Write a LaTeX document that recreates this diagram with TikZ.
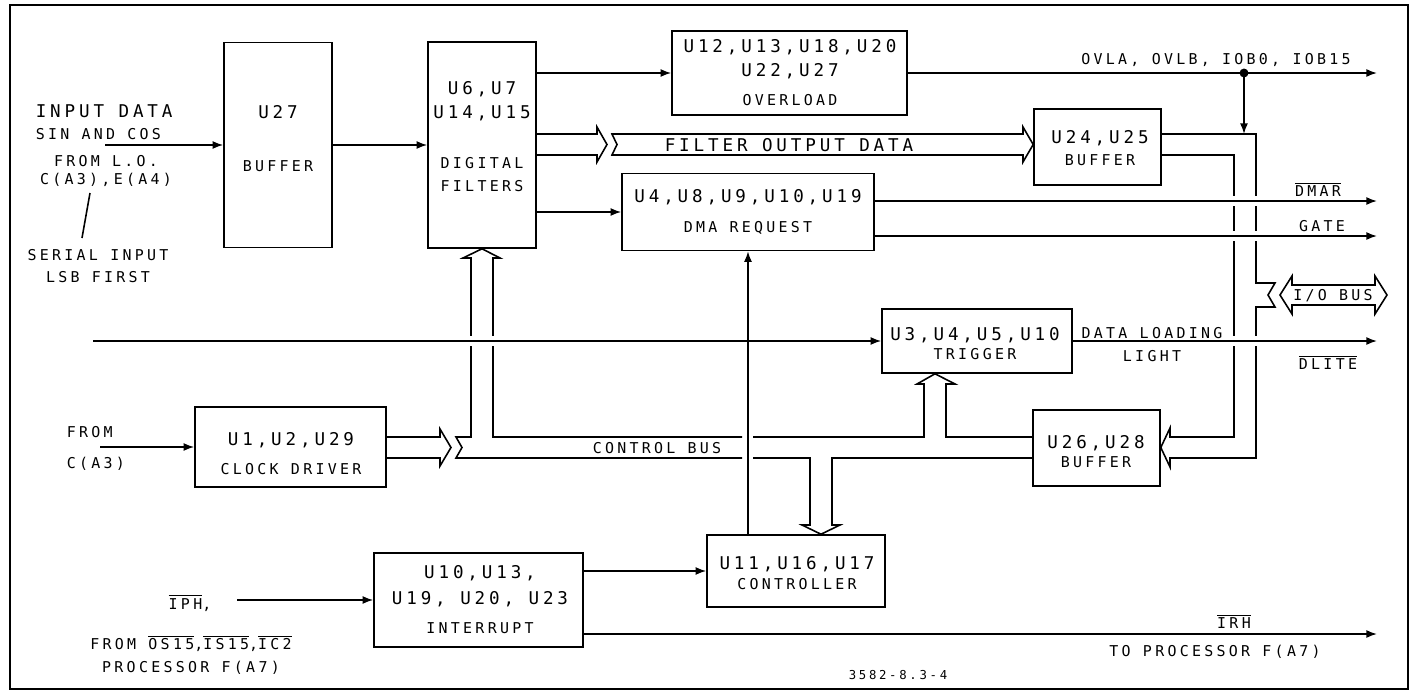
\documentclass[tikz,border=0pt]{standalone}
\usepackage{fontspec}
\setmainfont{DejaVu Sans Mono}[LetterSpace=22]
\usepackage{tikz}
\usetikzlibrary{arrows.meta}
\newcommand\lbig{\fontsize{10}{10}\selectfont}
\newcommand\lsmall{\fontsize{8.5}{10}\selectfont}
\newcommand\ltiny{\fontsize{7}{8}\selectfont}
\newcommand\olin[1]{$\overline{\mbox{#1}}$}

\begin{document}
\begin{tikzpicture}[x=0.02cm,y=-0.02cm,line width=0.9pt,
    >={Latex[length=6pt,width=4.5pt]},
    blk/.style={draw,fill=white,inner sep=0pt},
    txt/.style={align=center,inner sep=0pt,font=\lsmall},
    hop/.style={preaction={draw=white,line width=6pt,-,shorten <=3pt,shorten >=3pt}}]
    \useasboundingbox (0,0) rectangle (1418,693);
    \draw[line width=1.6pt] (10,5) rectangle (1408,689);

    % blocks
    \node[blk,minimum width=2.16cm,minimum height=4.1cm] (u27) at (278,145) {};
    \node[blk,minimum width=2.16cm,minimum height=4.12cm] (df) at (482,145) {};
    \node[blk,minimum width=4.7cm,minimum height=1.68cm] (ovl) at (789.5,73) {};
    \node[blk,minimum width=5.04cm,minimum height=1.54cm] (dma) at (748,212) {};
    \node[blk,minimum width=2.54cm,minimum height=1.52cm] (u24) at (1097.5,147) {};
    \node[blk,minimum width=3.8cm,minimum height=1.28cm] (trig) at (977,341) {};
    \node[blk,minimum width=2.54cm,minimum height=1.52cm] (u26) at (1096.5,448) {};
    \node[blk,minimum width=3.82cm,minimum height=1.6cm] (clk) at (290.5,447) {};
    \node[blk,minimum width=3.56cm,minimum height=1.44cm] (ctl) at (796,571) {};
    \node[blk,minimum width=4.18cm,minimum height=1.88cm] (intr) at (478.5,600) {};

    \node[txt] (u27t) at (278,138.5) {\lbig U27\\[20pt]\lsmall BUFFER};
    \node[txt] (dft) at (482,136.5) {\lbig U6,U7\\[3.6pt]\lbig U14,U15\\[18.3pt]DIGITAL\\[3pt]FILTERS};
    \node[txt] (ovlt) at (790,72.5) {\lbig U12,U13,U18,U20\\[3.6pt]\lbig U22,U27\\[6.4pt]OVERLOAD};
    \node[txt] (dmat) at (748,212) {\lbig U4,U8,U9,U10,U19\\[7pt]DMA REQUEST};
    \node[txt] (u24t) at (1100,148) {\lbig U24,U25\\[2.5pt]BUFFER};
    \node[txt] (trigt) at (975,343.5) {\lbig U3,U4,U5,U10\\[0.8pt]TRIGGER};
    \node[txt] (u26t) at (1096,451.5) {\lbig U26,U28\\[0.8pt]BUFFER};
    \node[txt] (clkt) at (291,453.5) {\lbig U1,U2,U29\\[6.4pt]CLOCK DRIVER};
    \node[txt] (ctlt) at (797,573) {\lbig U11,U16,U17\\[1.3pt]CONTROLLER};
    \node[txt] (intrt) at (480,599.5) {\lbig U10,U13,\\[4.7pt]\lbig U19, U20, U23\\[6.4pt]INTERRUPT};

    % free ends
    \coordinate (din) at (105,145);
    \coordinate (tin) at (93,341);
    \coordinate (cin) at (100,447);
    \coordinate (iin) at (237,600);
    \coordinate (o1) at (1377,73);
    \coordinate (o2) at (1377,201);
    \coordinate (o3) at (1377,236);
    \coordinate (o4) at (1377,341);
    \coordinate (o5) at (1377,634);
    \node[circle,fill,inner sep=1.8pt] (jn) at (1244,73) {};

    \draw[->] (din) -- (din -| u27.west);
    \draw[->] (u27.east) -- (df.west);
    \draw[->] (df.east |- ovl.west) -- (ovl.west);
    \draw[->] (df.east |- dma.west) -- (dma.west);
    \draw[->] (ovl.east) -- (o1);
    \draw[->] (jn.center) -- (1244,134);
    \draw (90,193) -- (82,238);

    % filter output data bus
    \draw (df.east |- 0,134) -- (597,134) -- (597,127) -- (607,144.5) -- (597,162) -- (597,155) -- (df.east |- 0,155);
    \draw (1023,127) -- (1023,134) -- (612,134) -- (617,144.5) -- (612,155) -- (1023,155) -- (1023,162) -- (u24.west |- 0,144.5) -- cycle;

    % i/o bus
    \draw (u24.east |- 0,134) -- (1256,134) -- (1256,283) -- (1275,283) -- (1268,295) -- (1275,307) -- (1256,307) -- (1256,458) -- (1170,458) -- (1170,467) -- (u26.east |- 0,447.5) -- (1170,428) -- (1170,437) -- (1234,437) -- (1234,155) -- (u24.east |- 0,155);
    \draw (1292,285) -- (1375,285) -- (1375,276) -- (1387,295) -- (1375,314) -- (1375,305) -- (1292,305) -- (1292,314) -- (1280,295) -- (1292,276) -- cycle;

    % control bus
    \draw (clk.east |- 0,437) -- (440,437) -- (440,429) -- (451,447.5) -- (440,466) -- (440,458) -- (clk.east |- 0,458);
    \draw (742,437) -- (493,437) -- (493,258) -- (500,258) -- (df.south) -- (463,258) -- (471,258) -- (471,437) -- (456,437) -- (462,447.5) -- (456,458) -- (742,458);
    \draw (u26.west |- 0,437) -- (946,437) -- (946,384) -- (955,384) -- (935,0 |- trig.south) -- (917,384) -- (924,384) -- (924,437) -- (753,437);
    \draw (u26.west |- 0,458) -- (832,458) -- (832,525) -- (840,525) -- (821,0 |- ctl.north) -- (802,525) -- (810,525) -- (810,458) -- (753,458);

    % signal lines over the buses
    \draw[->,hop] (dma.east |- o2) -- (o2);
    \draw[->,hop] (dma.east |- o3) -- (o3);
    \draw[->,hop] (tin) -- (trig.west);
    \draw[->,hop] (trig.east) -- (o4);
    \draw[->] (ctl.north -| dma.south) -- (dma.south);
    \draw[->] (intr.east |- ctl.west) -- (ctl.west);
    \draw[->] (intr.east |- o5) -- (o5);
    \draw[->] (iin) -- (intr.west);
    \draw[->] (cin) -- (clk.west);

    % labels
    \node[txt,align=left,anchor=west] (inp) at (35,122) {\lbig INPUT DATA\\[2.5pt]SIN AND COS};
    \node[txt] (fromlo) at (106,171) {FROM L.O.\\[0.2pt]C(A3),E(A4)};
    \node[txt] (ser) at (98,266) {SERIAL INPUT\\[2.5pt]LSB FIRST};
    \node[txt,align=left,anchor=west] (fromc) at (66,448) {FROM\\[7.6pt]C(A3)};
    \node[txt] (iph) at (190,603) {\olin{IPH},};
    \node[txt] (fromos) at (191,654.5) {FROM \olin{OS15},\olin{IS15},\olin{IC2}\\[3pt]PROCESSOR F(A7)};
    \node[txt,font=\lbig] (fod) at (789,145) {FILTER OUTPUT DATA};
    \node[txt] (ovla) at (1216,60) {OVLA, OVLB, IOB0, IOB15};
    \node[txt] (dmar) at (1318,189) {\olin{DMAR}};
    \node[txt] (gate) at (1322,226) {GATE};
    \node[txt] (iob) at (1333,296) {I/O BUS};
    \node[txt] (dld) at (1152,344.5) {DATA LOADING\\[3pt]LIGHT};
    \node[txt] (dlite) at (1328,362) {\olin{DLITE}};
    \node[txt] (cbus) at (657,448) {CONTROL BUS};
    \node[txt] (irh) at (1234,621) {\olin{IRH}};
    \node[txt] (topr) at (1215,652) {TO PROCESSOR F(A7)};
    \node[txt,font=\ltiny] (fig) at (898,675) {3582-8.3-4};
\end{tikzpicture}
\end{document}
